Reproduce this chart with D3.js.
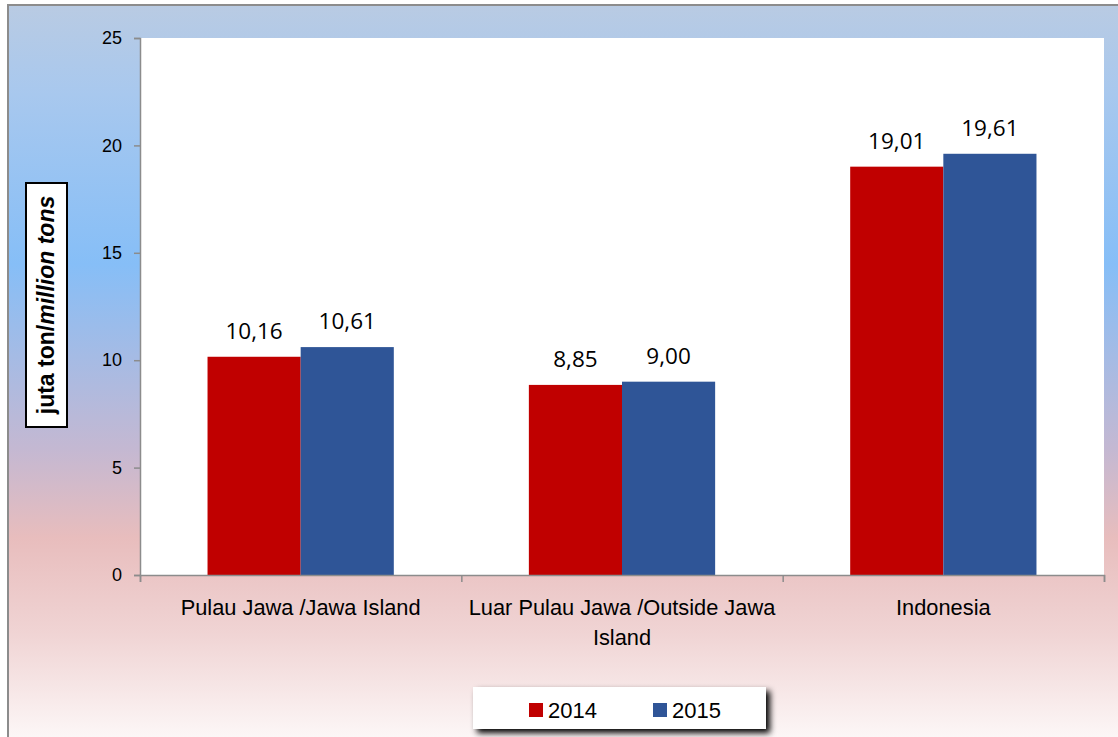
<!DOCTYPE html>
<meta charset="utf-8">
<style>
body { margin: 0; background: #fff; }
text { font-family: "Liberation Sans", Arial, sans-serif; }
</style>
<svg width="1118" height="737"></svg>
<script src="https://cdn.jsdelivr.net/npm/d3@7/dist/d3.min.js"></script>
<script>
// data
var categories = [["Pulau Jawa /Jawa Island"], ["Luar Pulau Jawa /Outside Jawa", "Island"], ["Indonesia"]];
var years = ["2014", "2015"];
var values2014 = [10.16, 8.85, 19.01];
var values2015 = [10.61, 9.00, 19.61];
var yTicks = [0, 5, 10, 15, 20, 25];
var colors = ["#c00000", "#2f5597"];

var svg = d3.select("svg");

var defs = svg.append("defs");
var bg = defs.append("linearGradient").attr("id", "bg")
    .attr("x1", 0).attr("y1", 0).attr("x2", 0).attr("y2", 1);
[[0, "#b9cbe3"], [0.12, "#a8c8ee"], [0.35, "#86bef7"], [0.6, "#c4b8d2"], [0.72, "#e8bdbd"], [0.85, "#f0d4d4"], [1, "#fdf9f9"]]
  .forEach(function(s) { bg.append("stop").attr("offset", s[0]).attr("stop-color", s[1]); });

var shadow = defs.append("filter").attr("id", "shadow").attr("x", "-5%").attr("y", "-20%").attr("width", "115%").attr("height", "160%");
shadow.append("feGaussianBlur").attr("in", "SourceAlpha").attr("stdDeviation", 3);
shadow.append("feOffset").attr("dx", 4).attr("dy", 4).attr("result", "b");
var fm = shadow.append("feMerge");
fm.append("feMergeNode").attr("in", "b");
fm.append("feMergeNode").attr("in", "SourceGraphic");

// outer frame
svg.append("rect").attr("x", 8).attr("y", 5).attr("width", 1120).attr("height", 740)
    .attr("fill", "url(#bg)").attr("stroke", "#8c8c8c").attr("stroke-width", 2);

var margin = {left: 140, top: 38, right: 1104, bottom: 575};

var x0 = d3.scaleBand().domain(d3.range(categories.length))
    .range([margin.left, margin.right]).paddingInner(0).paddingOuter(0);
var x1 = d3.scaleBand().domain(years).range([0, x0.bandwidth()]).paddingInner(0).paddingOuter(0.725);
var y = d3.scaleLinear().domain([0, 25]).range([margin.bottom, margin.top]);

// plot area
svg.append("rect").attr("x", margin.left).attr("y", margin.top)
    .attr("width", margin.right - margin.left).attr("height", margin.bottom - margin.top)
    .attr("fill", "#fff");

var rows = categories.map(function(c, i) { return {i: i, v: [values2014[i], values2015[i]]}; });

var groups = svg.selectAll(".grp").data(rows).enter().append("g")
    .attr("transform", function(d) { return "translate(" + x0(d.i) + ",0)"; });

groups.selectAll("rect").data(function(d) { return d.v.map(function(v, j) { return {v: v, j: j}; }); })
  .enter().append("rect")
    .attr("x", function(d) { return x1(years[d.j]); })
    .attr("y", function(d) { return y(d.v); })
    .attr("width", x1.bandwidth())
    .attr("height", function(d) { return y(0) - y(d.v); })
    .attr("fill", function(d) { return colors[d.j]; });

groups.selectAll(".lbl").data(function(d) { return d.v; })
  .enter().append("text")
    .attr("x", function(d, j) { return x1(years[j]) + x1.bandwidth() / 2; })
    .attr("y", function(d) { return y(d) - 18; })
    .attr("text-anchor", "middle")
    .style("font-family", "'Open Sans', sans-serif")
    .style("font-size", "22.5px")
    .attr("fill", "#000")
    .text(function(d) { return d3.format(".2f")(d).replace(".", ","); });

// y axis
var yAxis = svg.append("g").attr("transform", "translate(" + margin.left + ",0)")
    .call(d3.axisLeft(y).tickValues(yTicks).tickSize(6).tickPadding(12));
yAxis.selectAll("path, line").attr("stroke", "#8c8c8c").attr("stroke-width", 1.5);
yAxis.selectAll("text").style("font-size", "18px").attr("fill", "#000")
    .style("font-family", "'Liberation Sans Narrow', 'Liberation Sans', sans-serif");

// x axis
var xb = d3.scaleLinear().domain([0, categories.length]).range([margin.left, margin.right]);
var xAxis = svg.append("g").attr("transform", "translate(0," + margin.bottom + ")")
    .call(d3.axisBottom(xb).tickValues(d3.range(categories.length + 1)).tickSize(7).tickFormat(""));
xAxis.selectAll("path, line").attr("stroke", "#8c8c8c").attr("stroke-width", 1.5);

svg.selectAll(".cat").data(categories).enter().append("text")
    .attr("text-anchor", "middle")
    .attr("x", function(d, i) { return x0(i) + x0.bandwidth() / 2; })
    .attr("y", 615)
    .style("font-size", "21.8px")
    .attr("fill", "#000")
  .selectAll("tspan").data(function(d) { return d; }).enter().append("tspan")
    .attr("x", function() { return d3.select(this.parentNode).attr("x"); })
    .attr("dy", function(d, i) { return i ? 30 : 0; })
    .text(function(d) { return d; });

// y axis title
var yt = svg.append("g").attr("transform", "translate(46,305) rotate(-90)");
yt.append("rect").attr("x", -122).attr("y", -20).attr("width", 244).attr("height", 41)
    .attr("fill", "#fff").attr("stroke", "#000").attr("stroke-width", 2);
var ytt = yt.append("text").attr("text-anchor", "middle").attr("y", 8)
    .style("font-size", "23px").style("font-weight", "bold").attr("fill", "#000");
ytt.append("tspan").text("juta ton/");
ytt.append("tspan").style("font-style", "italic").text("million tons");

// legend
var lg = svg.append("g").attr("transform", "translate(473,687)");
lg.append("rect").attr("width", 293).attr("height", 42).attr("fill", "#fff").attr("filter", "url(#shadow)");
var li = lg.selectAll(".li").data(years).enter().append("g")
    .attr("transform", function(d, i) { return "translate(" + (56 + i * 124) + ",16)"; });
li.append("rect").attr("width", 14).attr("height", 14).attr("fill", function(d, i) { return colors[i]; });
li.append("text").attr("x", 19).attr("y", 15).style("font-size", "22px").attr("fill", "#000")
    .style("font-family", "'Liberation Sans Narrow', 'Liberation Sans', sans-serif")
    .text(function(d) { return d; });
</script>
